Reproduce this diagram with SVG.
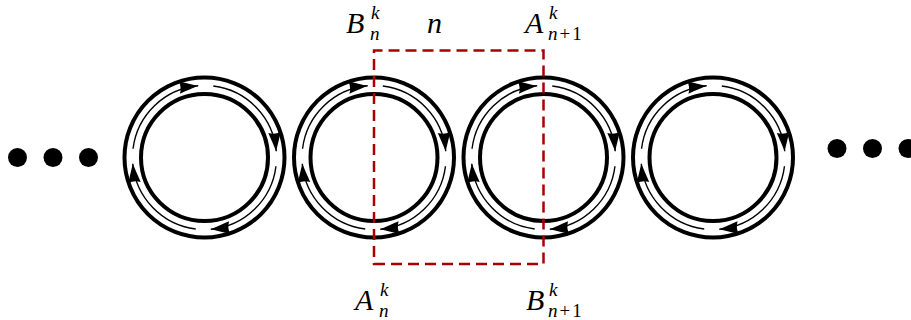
<svg xmlns="http://www.w3.org/2000/svg" xmlns:xlink="http://www.w3.org/1999/xlink" width="911" height="320" viewBox="0 0 911 320">
<style>
.ring{fill:none;stroke:#000;stroke-width:4}
.flow{fill:none;stroke:#000;stroke-width:1.4;marker-end:url(#arr)}
.dot{fill:#000}
.box{fill:none;stroke:#a80000;stroke-width:2.5;stroke-dasharray:11 6}
.t{font-family:"Liberation Serif","Times New Roman",serif;font-style:italic;font-size:30px;fill:#000}
.s{font-size:19px}
.u{font-style:normal}
</style>
<defs>
<marker id="arr" markerUnits="userSpaceOnUse" markerWidth="24" markerHeight="24" viewBox="-17 -8 19 16" refX="0" refY="0" orient="auto">
<path d="M0,0 C-4,-1.3 -10,-3.3 -15,-5 Q-13,0 -15,5 C-10,3.3 -4,1.3 0,0 Z" fill="#000"/>
</marker>
<g id="ring">
<circle class="ring" r="80"/>
<circle class="ring" r="63.5"/>
<path class="flow" d="M-71.464,-8.775 A72,72 0 0 1 -6.276,-71.726"/>
<path class="flow" d="M8.775,-71.464 A72,72 0 0 1 71.726,-6.276"/>
<path class="flow" d="M71.464,8.775 A72,72 0 0 1 6.276,71.726"/>
<path class="flow" d="M-8.775,71.464 A72,72 0 0 1 -71.726,6.276"/>
</g>
</defs>
<g id="dots-left">
<circle class="dot" cx="17.5" cy="157.5" r="9.5"/>
<circle class="dot" cx="53" cy="157.5" r="9.5"/>
<circle class="dot" cx="88.5" cy="157.5" r="9.5"/>
</g>
<g id="ring1"><use xlink:href="#ring" href="#ring" transform="translate(204.5,157.5)"/></g>
<g id="ring2"><use xlink:href="#ring" href="#ring" transform="translate(374,157.5)"/></g>
<g id="ring3"><use xlink:href="#ring" href="#ring" transform="translate(543.5,157.5)"/></g>
<g id="ring4"><use xlink:href="#ring" href="#ring" transform="translate(713,157.5)"/></g>
<g id="dots-right">
<circle class="dot" cx="837" cy="148.5" r="9.5"/>
<circle class="dot" cx="872.5" cy="148.5" r="9.5"/>
<circle class="dot" cx="908" cy="148.5" r="9.5"/>
</g>
<g id="cell">
<path class="box" d="M374,264 H543.5 V50.5 H374 Z"/>
</g>
<g id="labels">
<text class="t" x="346" y="33">B</text><text class="t s" x="371" y="19">k</text><text class="t s" x="370" y="40">n</text>
<text class="t" x="427" y="33">n</text>
<text class="t" x="525" y="33">A</text><text class="t s" x="549" y="19">k</text><text class="t s" x="548" y="40">n<tspan class="u" dx="2">+</tspan><tspan class="u" dx="2">1</tspan></text>
<text class="t" x="355" y="310">A</text><text class="t s" x="380" y="296">k</text><text class="t s" x="379" y="317">n</text>
<text class="t" x="526" y="310">B</text><text class="t s" x="549" y="296">k</text><text class="t s" x="548" y="317">n<tspan class="u" dx="2">+</tspan><tspan class="u" dx="2">1</tspan></text>
</g>
</svg>
